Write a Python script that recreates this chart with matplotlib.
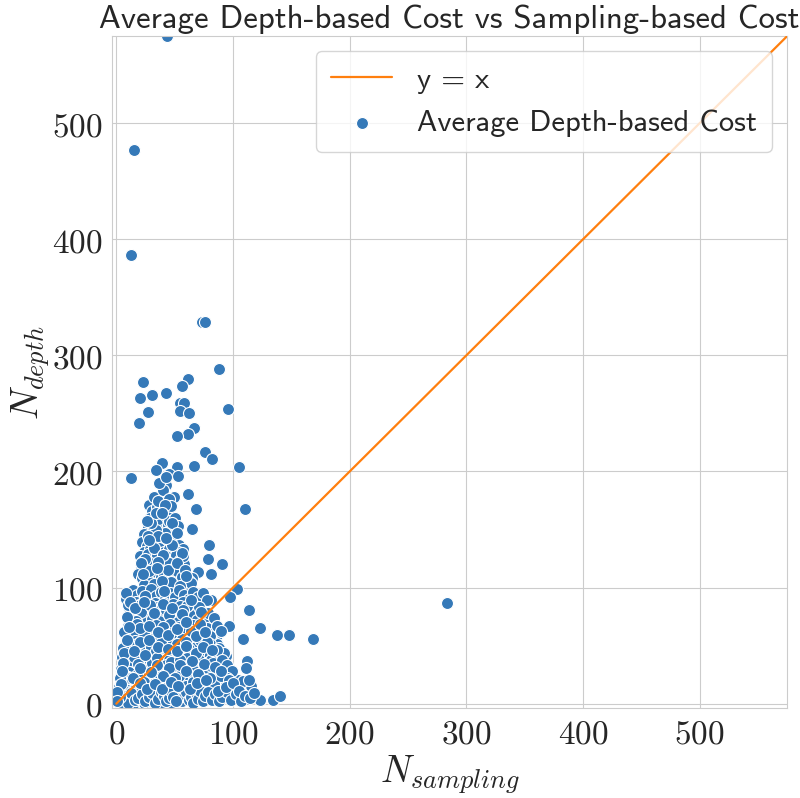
import numpy as np
import matplotlib
matplotlib.use("Agg")
import matplotlib.pyplot as plt
import seaborn as sns
from matplotlib.font_manager import FontProperties
from matplotlib.ticker import FuncFormatter

# 外れ値（目視で読み取り）
outlier_x = [43.6, 14.8, 12.7, 73.2, 76.0, 88.0, 61.7, 23.1, 56.0, 42.6, 30.3, 20.3,
             54.6, 58.0, 96.0, 54.6, 27.4, 62.0, 19.7, 66.6, 61.7, 52.0, 76.0, 82.0,
             39.4, 34.0, 52.3, 66.3, 105.4, 45.2, 53.0, 12.6, 42.8, 38.9, 49.7, 61.2,
             68.3, 110.3, 64.6, 44.6, 79.4, 78.8, 90.3, 81.1, 69.7, 65.0, 283.6]
outlier_y = [575.0, 477.0, 386.5, 329.0, 329.0, 288.0, 280.0, 277.4, 274.0, 267.6, 265.6, 263.3,
             259.4, 258.8, 253.6, 252.5, 251.0, 250.0, 241.4, 237.6, 232.0, 230.8, 216.5, 210.8,
             207.0, 201.4, 203.7, 204.8, 204.2, 198.0, 196.0, 194.8, 188.3, 181.4, 178.2, 180.8,
             168.0, 167.4, 150.8, 153.6, 137.0, 124.2, 120.0, 111.4, 113.0, 108.5, 86.8]

# 右側に散らばる点
right_x = [103.7, 97.4, 114.0, 80.9, 123.4, 137.4, 148.0, 168.5, 108.6, 96.6, 112.0, 111.0,
           115.2, 104.0, 109.0, 113.7, 93.7, 111.7, 123.1, 134.3, 140.0, 86.0, 86.3, 77.5,
           89.7, 85.2, 94.6, 100.3]
right_y = [98.8, 91.7, 80.5, 88.9, 64.8, 58.8, 58.8, 56.0, 55.4, 66.6, 36.8, 30.8,
           15.4, 20.3, 19.4, 20.8, 41.0, 4.0, 3.2, 2.9, 6.6, 58.9, 51.7, 41.4,
           33.4, 44.3, 13.7, 8.6]

# 密集部分（y > 100）
upper_x = [28, 31, 35, 39, 44, 33, 41, 37, 29, 46,
           27, 31, 35, 40, 44, 48, 51, 24, 38, 45, 42, 34,
           22, 26, 30, 34, 38, 42, 46, 50, 54, 57, 24, 29, 33, 37, 41, 45, 49, 53, 27, 36,
           20, 23, 27, 31, 35, 39, 43, 47, 51, 55, 58, 25, 29, 33, 37, 41, 45, 49, 53, 57, 21,
           19, 22, 26, 30, 34, 38, 42, 46, 50, 54, 58, 62, 24, 28, 36, 40, 44, 48, 52, 56, 60, 64,
           32, 36, 40, 45, 47, 30, 34, 42, 50, 53, 26, 37, 43, 39, 48,
           25, 32, 40, 48, 56, 21, 36, 44, 52, 59, 23, 32, 47, 55, 60, 28, 43, 52, 35, 39]
upper_y = [171, 166, 169, 173, 167, 162, 161, 158, 160, 163,
           152, 148, 155, 150, 154, 149, 146, 146, 145, 157, 147, 150,
           139, 136, 142, 138, 141, 136, 139, 142, 137, 133, 131, 133, 130, 134, 131, 133, 130, 131, 144, 144,
           127, 123, 129, 125, 128, 124, 127, 123, 128, 124, 120, 118, 121, 116, 119, 117, 121, 116, 118, 127, 116,
           112, 108, 110, 106, 113, 109, 104, 111, 107, 103, 112, 106, 102, 114, 101, 113, 108, 102, 114, 109, 100, 104,
           178, 175, 184, 176, 170, 156, 164, 171, 160, 153, 157, 190, 195, 164, 156,
           125, 134, 128, 137, 130, 121, 122, 115, 121, 115, 112, 103, 105, 101, 110, 141, 143, 147, 117, 106]

# 密集部分（y <= 100）
lower_x = [14, 18, 22, 26, 30, 34, 38, 42, 46, 50, 54, 58, 62, 66, 70, 17, 21, 25, 33, 41, 49, 57, 65, 74, 78,
           11, 15, 19, 23, 27, 31, 35, 39, 43, 47, 51, 55, 59, 63, 67, 71, 75, 79, 84, 13, 21, 29, 37, 45, 53, 61, 69, 73, 17, 57,
           10, 14, 18, 22, 26, 30, 34, 38, 42, 46, 50, 54, 58, 62, 66, 70, 74, 78, 82, 86, 12, 16, 24, 32, 40, 48, 56, 64, 72, 80, 90, 20,
           8, 12, 16, 20, 24, 28, 32, 36, 40, 44, 48, 52, 56, 60, 64, 68, 72, 76, 80, 84, 88, 92, 10, 14, 22, 30, 38, 46, 54, 62, 70, 78, 86, 18, 34,
           6, 9, 13, 17, 21, 25, 29, 33, 37, 41, 45, 49, 53, 57, 61, 65, 69, 73, 77, 81, 85, 89, 93, 97,
           11, 15, 19, 23, 27, 31, 35, 39, 43, 47, 51, 55, 59, 63, 67, 71, 75, 79, 83, 91, 95, 99,
           4, 7, 10, 13, 16, 19, 22, 25, 28, 31, 34, 37, 40, 43, 46, 49, 52, 55, 58, 61, 64, 67, 70, 73, 76, 79, 82, 85,
           88, 91, 95, 98, 102, 5, 9, 12, 18, 24, 30, 36, 42, 48, 54, 60, 66, 72, 78, 84, 90, 97,
           2, 3, 5, 6, 8, 9, 11, 12, 14, 15, 17, 18, 20, 21, 23, 24, 26, 27, 29, 30, 32, 34, 35, 37, 39, 40, 42, 44,
           46, 48, 50, 52, 54, 56, 58, 60, 62, 64, 66, 68, 70, 72, 74, 76, 79, 82, 85, 88, 91, 95, 98, 103, 107,
           4, 7, 10, 13, 16, 19, 22, 25, 28, 31, 33, 36, 38, 41, 43, 45, 47, 49, 51,
           8, 10, 9, 7, 6, 5, 4, 3, 2, 3, 8, 12, 11, 9, 7, 6, 5, 4, 1, 1,
           16, 24, 32, 40, 48, 56, 64, 28, 36, 44, 52, 60, 68, 76, 20, 28, 36, 44, 52, 60, 68, 74, 82,
           15, 25, 35, 45, 55, 65, 75, 85, 20, 30, 40, 50, 60, 70, 80, 90,
           14, 20, 26, 33, 39, 47, 53, 63, 69, 77, 87, 94, 100, 105, 110, 115, 118]
lower_y = [98, 94, 97, 91, 99, 93, 96, 90, 95, 92, 98, 94, 90, 96, 92, 88, 86, 93, 87, 97, 86, 88, 87, 95, 89,
           82, 78, 84, 75, 80, 73, 83, 77, 81, 72, 79, 84, 74, 80, 76, 83, 71, 78, 74, 72, 79, 85, 71, 76, 70, 84, 72, 79, 71, 81,
           67, 62, 69, 57, 65, 60, 68, 56, 63, 69, 58, 66, 61, 55, 68, 62, 57, 65, 60, 67, 56, 59, 61, 57, 66, 61, 56, 63, 69, 58, 63, 65,
           52, 47, 54, 43, 50, 45, 53, 41, 48, 54, 44, 51, 46, 53, 42, 49, 55, 45, 51, 41, 48, 44, 42, 50, 47, 49, 52, 42, 40, 47, 43, 53, 46, 51, 45,
           38, 33, 36, 29, 39, 32, 37, 26, 34, 30, 38, 27, 35, 31, 39, 28, 36, 25, 33, 38, 29, 35, 30, 26,
           27, 40, 34, 26, 30, 35, 39, 28, 33, 36, 29, 38, 26, 34, 31, 38, 30, 27, 35, 38, 33, 28,
           20, 15, 23, 18, 13, 21, 16, 24, 14, 19, 22, 15, 20, 13, 23, 17, 21, 14, 19, 24, 16, 22, 13, 18, 24, 15, 20, 23,
           14, 18, 22, 16, 13, 25, 12, 22, 25, 19, 12, 24, 17, 12, 24, 15, 19, 23, 12, 17, 24, 20,
           3, 8, 1, 5, 10, 2, 7, 4, 11, 1, 6, 9, 3, 11, 6, 1, 8, 4, 10, 2, 6, 11, 3, 8, 1, 5, 10, 3,
           7, 1, 9, 4, 11, 2, 7, 10, 3, 6, 1, 9, 4, 11, 2, 7, 10, 3, 8, 2, 6, 10, 3, 8, 2,
           4, 7, 1, 9, 3, 5, 8, 2, 6, 9, 1, 4, 10, 7, 2, 5, 11, 6, 2,
           90, 85, 75, 62, 48, 40, 30, 22, 14, 6, 95, 88, 66, 55, 44, 35, 28, 17, 10, 2,
           82, 88, 78, 86, 82, 77, 89, 67, 62, 59, 64, 70, 58, 62, 53, 55, 49, 47, 45, 50, 44, 49, 46,
           45, 42, 33, 31, 33, 37, 34, 32, 31, 27, 24, 22, 28, 26, 22, 28,
           22, 18, 13, 17, 13, 19, 15, 13, 18, 20, 11, 14, 18, 11, 7, 5, 9]

x_sampling = np.array(outlier_x + right_x + upper_x + lower_x, dtype=float)
y_depth = np.array(outlier_y + right_y + upper_y + lower_y, dtype=float)

AX_MIN, AX_MAX = -3.7, 575.0

sns.set_style("whitegrid")
plt.rcParams["mathtext.fontset"] = "cm"
sans = "cmss10"

fig = plt.figure(figsize=(8.0, 7.98), dpi=100)
ax = fig.add_axes([0.14, 0.1128, 0.844, 0.842])

sns.scatterplot(x=x_sampling, y=y_depth, ax=ax, color="#3579b8", s=75,
                edgecolor="white", linewidth=0.8, label="Average Depth-based Cost", zorder=2)
ax.plot([0, AX_MAX], [0, AX_MAX], color="#ff7f0e", lw=1.6, label="y = x", zorder=3)

ax.set_xlim(AX_MIN, AX_MAX)
ax.set_ylim(AX_MIN, AX_MAX)
ax.set_xticks([0, 100, 200, 300, 400, 500])
ax.set_yticks([0, 100, 200, 300, 400, 500])
fmt = FuncFormatter(lambda v, p: f"${int(v)}$")
ax.xaxis.set_major_formatter(fmt)
ax.yaxis.set_major_formatter(fmt)
ax.tick_params(labelsize=24, colors="#262626")

ax.set_xlabel(r"$N_{sampling}$", fontsize=27, labelpad=2)
ax.set_ylabel(r"$N_{depth}$", fontsize=27, labelpad=0)
ax.set_title("Average Depth-based Cost vs Sampling-based Cost", fontsize=23.6,
             fontfamily=sans, color="#262626", pad=6)

# 凡例は線 → 点の順
handles, labels = ax.get_legend_handles_labels()
order = [labels.index("y = x"), labels.index("Average Depth-based Cost")]
leg = ax.legend([handles[i] for i in order], [labels[i] for i in order],
                loc="upper right", prop=FontProperties(family=sans, size=22),
                frameon=True, framealpha=0.8, borderpad=0.5, handlelength=2.0)
for t in leg.get_texts():
    t.set_color("#262626")

fig.savefig("out.png", dpi=100)
